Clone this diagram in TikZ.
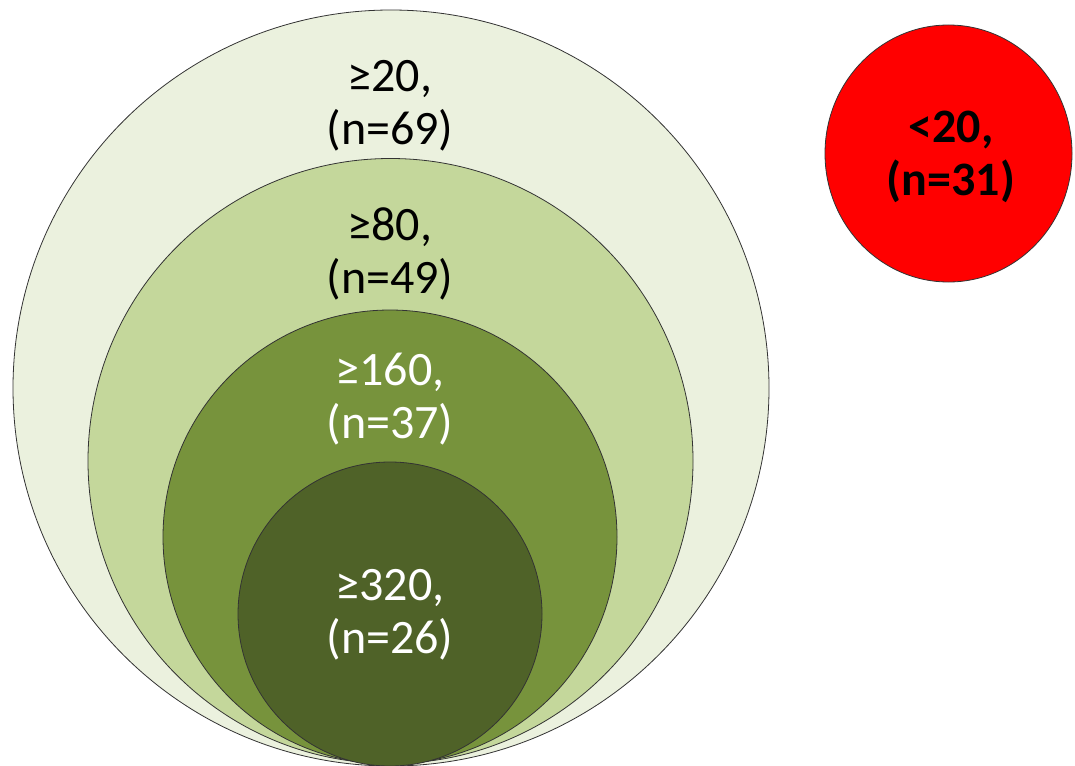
\documentclass[tikz,border=0pt]{standalone}
\usepackage{fontspec}
\setmainfont{Carlito}
\usetikzlibrary{shapes.geometric}
\definecolor{ring1}{HTML}{EBF1DE}
\definecolor{ring2}{HTML}{C4D79B}
\definecolor{ring3}{HTML}{77933C}
\definecolor{ring4}{HTML}{4F6228}
\definecolor{redc}{HTML}{FF0000}
\begin{document}
\begin{tikzpicture}[x=1pt,y=-1pt,
  ring/.style={circle,draw=black!80,line width=0.8pt,inner sep=0pt},
  lbl/.style={align=center,font=\fontsize{48}{53}\selectfont,inner sep=0pt}]
\useasboundingbox (0,0) rectangle (1075,765);
\node[ring,fill=ring1,minimum size=756pt] (c1) at (391,388) {};
\node[ring,fill=ring2,minimum size=605pt] (c2) at (390.5,461) {};
\node[ring,fill=ring3,minimum size=454pt] (c3) at (390,537) {};
\node[ring,fill=ring4,minimum size=304pt] (c4) at (390,614) {};
\node[ellipse,draw=black!80,line width=0.8pt,fill=redc,minimum width=247pt,minimum height=257pt,inner sep=0pt] (r) at (948.5,153.5) {};
\node[lbl,text=black] (t1) at (390,106) {≥20,\\(n=69)};
\node[lbl,text=black] (t2) at (390,254) {≥80,\\(n=49)};
\node[lbl,text=white] (t3) at (390,399) {≥160,\\(n=37)};
\node[lbl,text=white] (t4) at (390,615) {≥320,\\(n=26)};
\node[lbl,text=black,font=\fontsize{48}{53}\selectfont\bfseries] (t5) at (951,157) {<20,\\(n=31)};
\end{tikzpicture}
\end{document}
